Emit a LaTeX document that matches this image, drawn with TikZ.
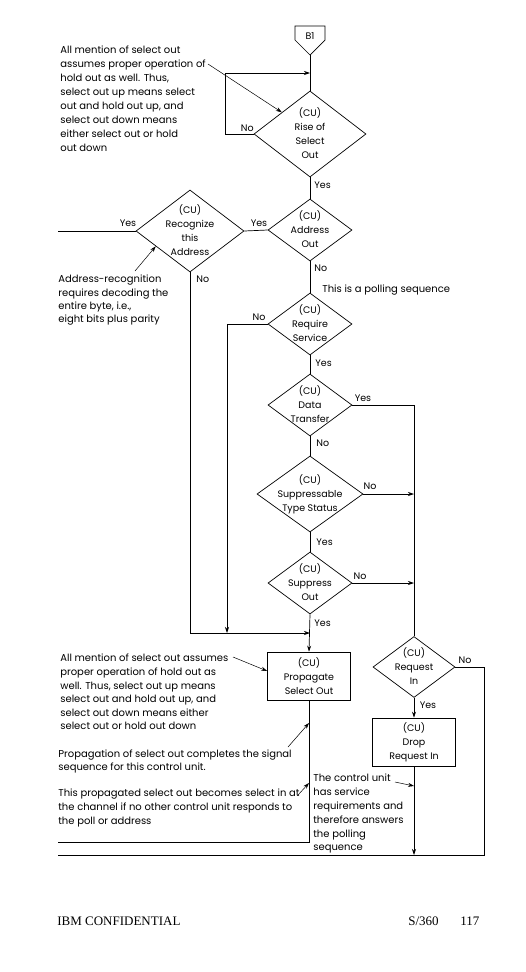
\documentclass[tikz,border=0pt]{standalone}
\usepackage{fontspec}
\setmainfont{Poppins}
\newfontfamily\footfont{Liberation Serif}
\usetikzlibrary{shapes.geometric,arrows.meta,calc}

% text set inside a diamond, with no size of its own
\newcommand{\dlab}[1]{\raisebox{-2.5pt}[0pt][0pt]{\makebox[0pt]{\begin{tabular}{@{}c@{}}#1\end{tabular}}}}
\newcommand{\notefont}{\fontsize{10}{14}\selectfont}
\newcommand{\cufont}{\fontsize{9.5}{14}\selectfont}

\tikzset{
  dia/.style={draw, diamond, inner sep=0pt, font=\cufont},
  dia small/.style={dia, minimum width=84pt, minimum height=62pt},
  cubox/.style={draw, rectangle, inner sep=0pt, minimum width=83pt, minimum height=48pt, align=center, font=\cufont},
  note/.style={anchor=north west, inner sep=0pt, align=left, font=\notefont},
  lab/.style={inner sep=0pt, font=\cufont},
}

\begin{document}
\begin{tikzpicture}[x=1pt, y=-1pt, line width=0.7pt, >={Stealth[length=6pt,width=4pt]}]
			\useasboundingbox (0,0) rectangle (526,972);

			% off-page connector
			\draw (295,26) -- (325,26) -- (325,40) -- (310,55) -- (295,40) -- cycle;
			\node[lab] (b1) at (310,36) {B1};
			\coordinate (b1tip) at (310,55);
			\coordinate (loopin) at (310,73);

			% decisions
			\node[dia, minimum width=112pt, minimum height=86pt] (rise) at (310,134) {\dlab{(CU)\\Rise of\\Select\\Out}};
			\node[dia small] (addr) at (310,230) {\dlab{(CU)\\Address\\Out}};
			\node[dia, minimum width=108pt, minimum height=82pt] (recog) at (190,231) {\dlab{(CU)\\Recognize\\this\\Address}};
			\node[dia small] (req) at (310,324) {\dlab{(CU)\\Require\\Service}};
			\node[dia small] (data) at (310,405) {\dlab{(CU)\\Data\\Transfer}};
			\node[dia, minimum width=106pt, minimum height=76pt] (supp) at (310,494) {\dlab{(CU)\\Suppressable\\Type Status}};
			\node[dia small] (sout) at (310,583) {\dlab{(CU)\\Suppress\\Out}};
			\node[dia, minimum width=82pt, minimum height=61pt] (reqin) at (414,667) {\dlab{(CU)\\Request\\In}};

			% actions
			\node[cubox] (prop) at (309,676) {(CU)\\Propagate\\Select Out};
			\node[cubox] (drop) at (414,742) {(CU)\\Drop\\Request In};

			% joins and ends
			\coordinate (joinA) at (227,633);
			\coordinate (joinB) at (310,633);
			\coordinate (chanA) at (58,231);
			\coordinate (chanP) at (58,842);
			\coordinate (chanR) at (484,855);
			\coordinate (chanL) at (58,855);
			\coordinate (dropend) at (414,855);

			% flow
			\draw (b1tip) -- (rise.north);
			\draw[->] (rise.west) -- ++(-28,0) |- (loopin);
			\draw (rise.south) -- (addr.north);
			\draw (addr.west) -- (recog.east);
			\draw (recog.west) -- (chanA);
			\draw (addr.south) -- (req.north);
			\draw (req.south) -- (data.north);
			\draw (data.south) -- (supp.north);
			\draw (supp.south) -- (sout.north);
			\draw[->] (sout.south) -- (prop.north);
			\draw[->] (recog.south) |- (joinB);
			\draw[->] (req.west) -| (joinA);
			\draw (data.east) -| (reqin.north);
			\draw[->] (supp.east) -- (supp.east -| reqin.north);
			\draw[->] (sout.east) -- (sout.east -| reqin.north);
			\draw[->] (reqin.south) -- (drop.north);
			\draw[->] (drop.south) -- (dropend);
			\draw (reqin.east) -| (chanR) -- (chanL);
			\draw (prop.south) |- (chanP);

			% branch labels
			\node[lab, anchor=east] (no1) at (254,128) {No};
			\node[lab, anchor=west] (yes1) at (314,185) {Yes};
			\node[lab] (yes2) at (259,223) {Yes};
			\node[lab] (yes3) at (128,223) {Yes};
			\node[lab, anchor=west] (no2) at (196,279) {No};
			\node[lab, anchor=west] (no3) at (314,268) {No};
			\node[lab] (no4) at (259,317) {No};
			\node[lab, anchor=west] (yes4) at (315,363) {Yes};
			\node[lab] (yes5) at (363,398) {Yes};
			\node[lab, anchor=west] (no5) at (316,443) {No};
			\node[lab] (no6) at (370,486) {No};
			\node[lab, anchor=west] (yes6) at (316,542) {Yes};
			\node[lab] (no7) at (360,576) {No};
			\node[lab, anchor=west] (yes7) at (314,623) {Yes};
			\node[lab] (no8) at (465,660) {No};
			\node[lab] (yes8) at (428,705) {Yes};

			% notes
			\node[note] (noteA) at (60,46) {All mention of select out\\assumes proper operation of\\hold out as well.  Thus,\\select out up means select\\out and hold out up, and\\select out down means\\either select out or hold\\out down};
			\node[note, font=\fontsize{10}{13.3}\selectfont] (noteB) at (58,275) {Address-recognition\\requires decoding the\\entire byte, i.e.,\\eight bits plus parity};
			\node[note] (poll) at (322,285) {This is a polling sequence};
			\node[note, font=\fontsize{10}{13.6}\selectfont] (noteC) at (60,654) {All mention of select out assumes\\proper operation of hold out as\\well.  Thus, select out up means\\select out and hold out up, and\\select out down means either\\select out or hold out down};
			\node[note, font=\fontsize{10}{13.4}\selectfont] (noteD) at (58,749) {Propagation of select out completes the signal\\sequence for this control unit.};
			\node[note] (noteE) at (58,789) {This propagated select out becomes select in at\\the channel if no other control unit responds to\\the poll or address};
			\node[note, font=\fontsize{10}{13.8}\selectfont] (noteF) at (313,774) {The control unit\\has service\\requirements and\\therefore answers\\the polling\\sequence};

			% note pointers
			\coordinate (fromA) at (208,64);
			\coordinate (fromB) at (135,271);
			\coordinate (fromC) at (233,657);
			\coordinate (fromD) at (288,747);
			\coordinate (atD) at (309,723);
			\coordinate (fromE) at (298,795);
			\coordinate (atE) at (309,783);
			\coordinate (fromF) at (395,782);
			\coordinate (atF) at (414,786);
			\draw[->, line width=0.5pt] (fromA) -- (rise.north west);
			\draw[->, line width=0.5pt] (fromB) -- ($(recog.west)!0.37!(recog.south)$);
			\draw[->, line width=0.5pt] (fromC) -- ([yshift=5pt]prop.west);
			\draw[->, line width=0.5pt] (fromD) -- (atD);
			\draw[->, line width=0.5pt] (fromE) -- (atE);
			\draw[->, line width=0.5pt] (fromF) -- (atF);

			% page foot
			\node[anchor=base west, inner sep=0pt, font=\footfont\fontsize{13}{15}\selectfont] (conf) at (57,925) {IBM CONFIDENTIAL};
			\node[anchor=base west, inner sep=0pt, font=\footfont\fontsize{13}{15}\selectfont] (sys) at (408,925) {S/360};
			\node[anchor=base west, inner sep=0pt, font=\footfont\fontsize{13}{15}\selectfont] (page) at (460,925) {117};
		\end{tikzpicture}
\end{document}
